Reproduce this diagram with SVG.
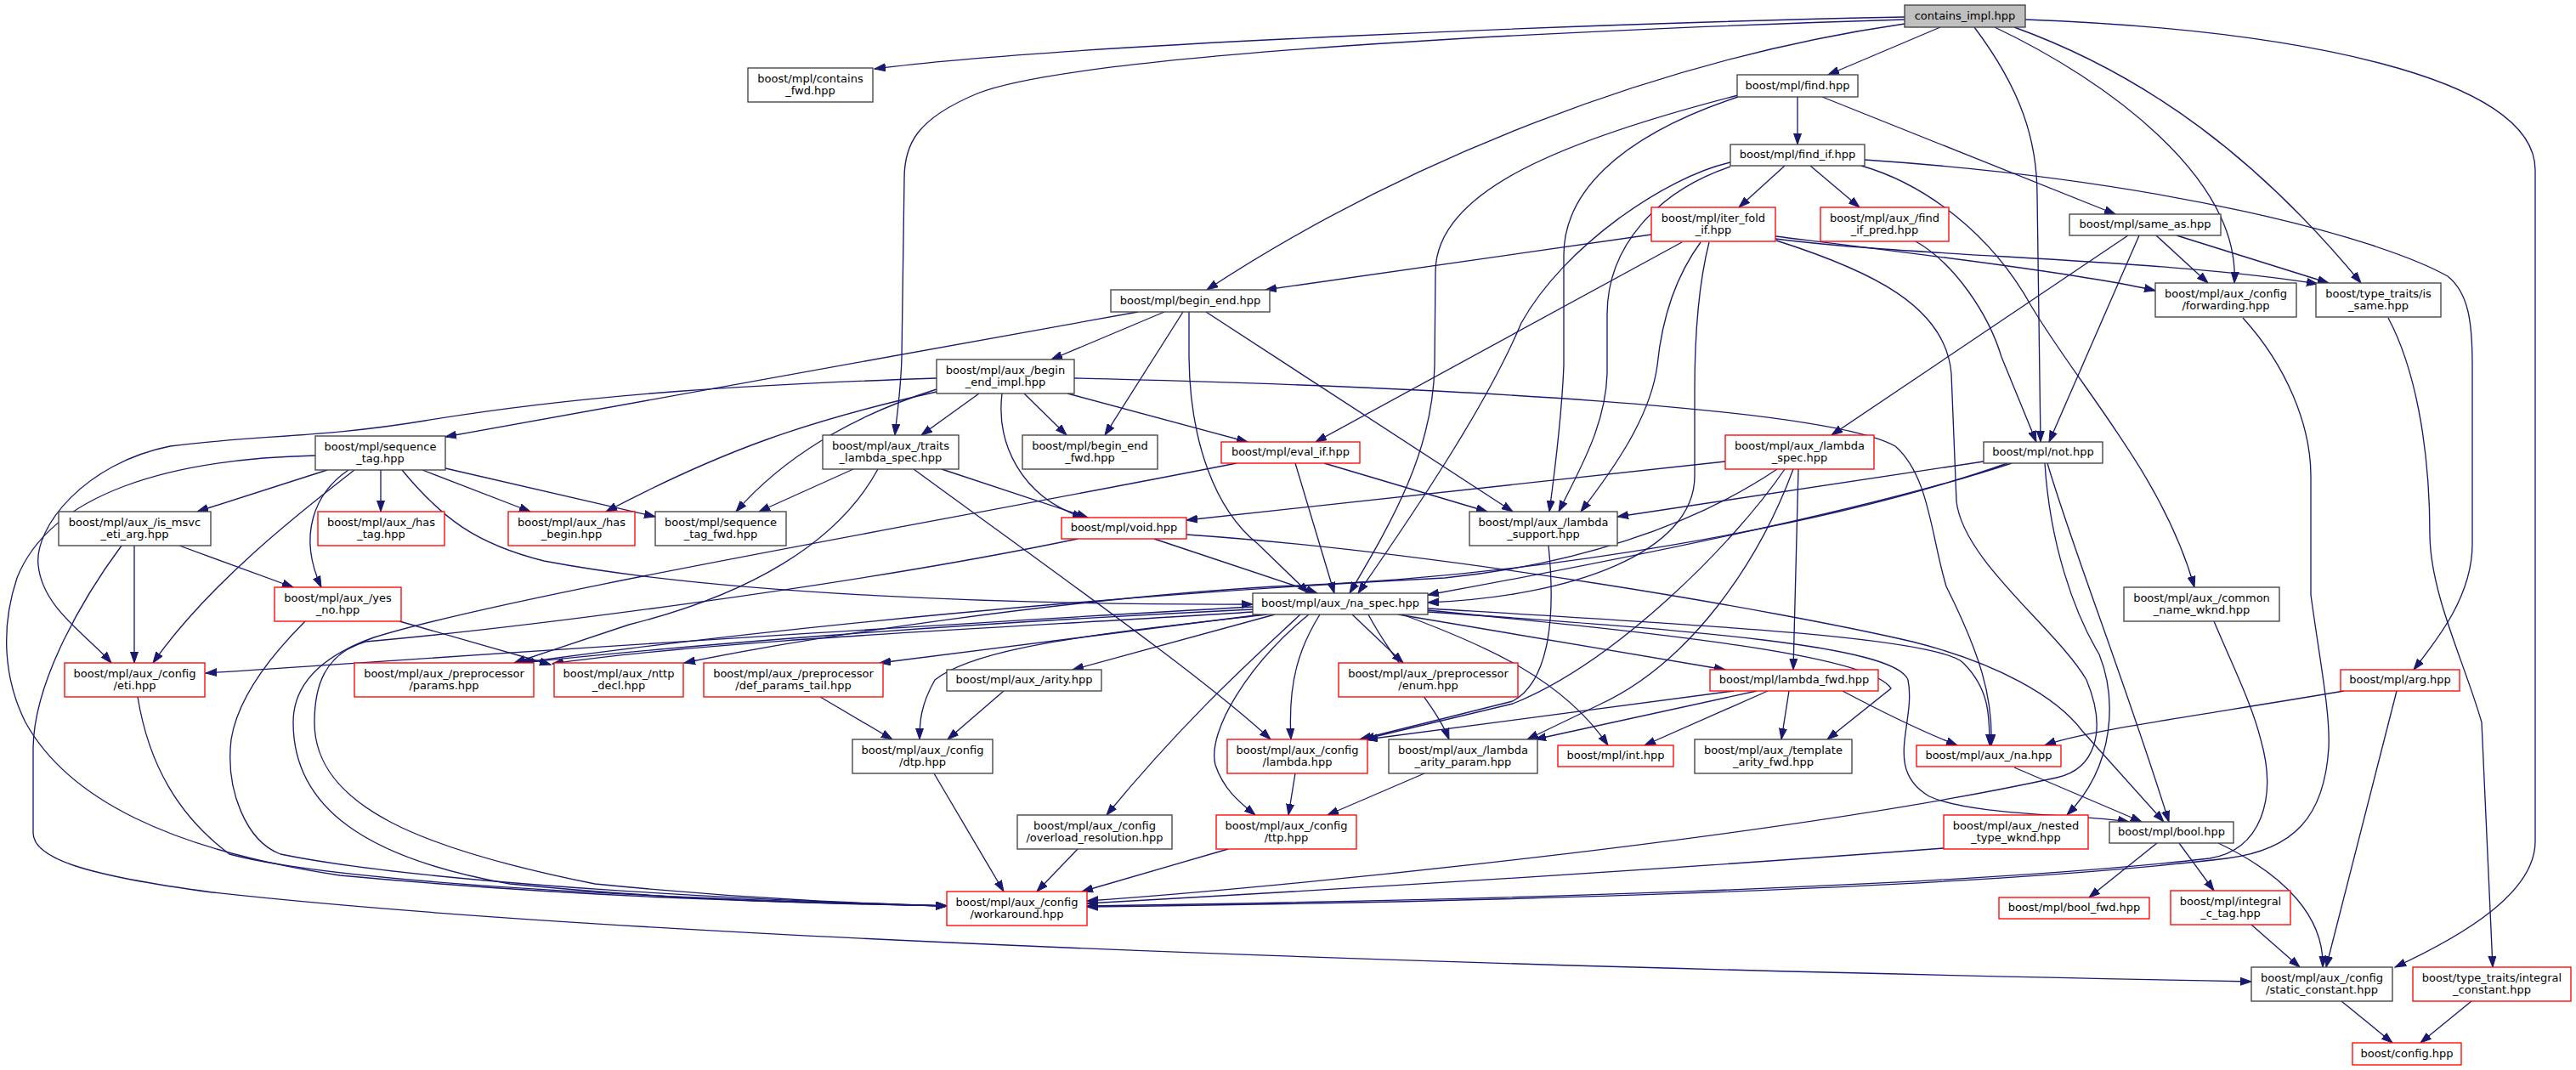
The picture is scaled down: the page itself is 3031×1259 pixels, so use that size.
<svg xmlns="http://www.w3.org/2000/svg" width="3031" height="1259" viewBox="0 0 3031 1259">
<style>
.e path{fill:none;stroke:#191970;stroke-width:1.33;marker-end:url(#ah)}
.n rect{fill:#fff;stroke:#404040;stroke-width:1.33}
.n.r rect{stroke:#ff0000}
.n.g rect{fill:#bfbfbf}
.n text{font-family:"DejaVu Sans","Liberation Sans",sans-serif;font-size:13px;text-anchor:middle;fill:#000}
</style>
<defs>
<marker id="ah" markerUnits="userSpaceOnUse" markerWidth="14" markerHeight="10" refX="13" refY="5" orient="auto"><path d="M0,0.5 L13,5 L0,9.5 z" fill="#191970" stroke="#191970"/></marker>
</defs>
<rect width="3031" height="1259" fill="#fff"/>
<g id="edges" class="e">
<path d="M2241,20 C1900,27 1250,52 1029,81"/>
<path d="M2241,23 C1700,40 1250,70 1150,110 C1078,140 1064,170 1064,210 L1061,420 C1060,460 1055,490 1053,512"/>
<path d="M2241,28 C1950,70 1650,190 1420,341"/>
<path d="M2283,32 L2151,88"/>
<path d="M2323,32 C2378,105 2397,165 2397,230 L2401,520"/>
<path d="M2347,32 C2480,95 2636,210 2629,333"/>
<path d="M2370,32 C2530,90 2660,190 2778,333"/>
<path d="M2383,23 C2700,35 2983,90 2983,200 L2983,990 C2983,1050 2900,1100 2818,1138"/>
<path d="M2115,114 L2115,170"/>
<path d="M2144,114 L2489,252"/>
<path d="M2045,112 C1820,170 1689,230 1689,320 L1688,430 C1686,530 1640,610 1588,698"/>
<path d="M2045,114 C1900,162 1840,230 1840,300 L1840,430 C1838,480 1830,550 1823,602"/>
<path d="M2100,195 L2046,244"/>
<path d="M2130,195 L2188,244"/>
<path d="M2036,191 C1960,208 1840,290 1790,380 C1752,470 1680,580 1598,698"/>
<path d="M2036,196 C1950,225 1891,290 1891,370 L1891,440 C1889,500 1860,550 1834,602"/>
<path d="M2190,195 C2260,215 2340,270 2390,360 C2450,460 2545,560 2582,691"/>
<path d="M2194,188 C2550,212 2800,280 2880,325 C2905,345 2909,380 2909,430 L2909,640 C2909,700 2870,750 2840,788"/>
<path d="M1943,276 L1489,341"/>
<path d="M1979,285 L1548,520"/>
<path d="M2089,278 C2250,298 2450,322 2536,342"/>
<path d="M2089,281 C2250,302 2550,305 2727,334"/>
<path d="M2001,285 C1968,330 1955,380 1950,430 C1942,490 1900,550 1860,602"/>
<path d="M2011,285 C1997,340 1994,400 1994,460 L1994,560 C1994,650 1850,702 1680,709"/>
<path d="M2090,283 C2200,318 2290,360 2296,440 L2302,590 C2310,660 2420,740 2455,800 C2480,860 2465,905 2420,915 C2100,985 1500,1045 1279,1060"/>
<path d="M2254,284 C2300,310 2340,370 2355,420 L2396,520"/>
<path d="M2517,277 L2411,520"/>
<path d="M2504,277 L2155,512"/>
<path d="M2537,277 L2598,333"/>
<path d="M2561,277 L2740,333"/>
<path d="M1339,367 L524,514"/>
<path d="M1370,367 L1237,423"/>
<path d="M1392,367 L1300,512"/>
<path d="M1399,367 L1399,420 C1400,520 1430,600 1480,640 L1540,698"/>
<path d="M1419,367 L1780,602"/>
<path d="M1152,463 L1084,512"/>
<path d="M1205,463 L1255,512"/>
<path d="M1256,463 L1468,520"/>
<path d="M1102,458 C1000,490 920,540 866,602"/>
<path d="M1179,463 C1172,520 1200,585 1275,609"/>
<path d="M1102,461 C950,495 850,530 713,602"/>
<path d="M1264,445 C1700,455 2150,480 2230,525 C2270,560 2272,630 2290,690 C2330,770 2345,820 2343,877"/>
<path d="M1102,445 C900,452 700,462 500,495 C380,515 300,512 200,525 C100,545 40,620 45,665 C50,715 100,745 131,780"/>
<path d="M385,553 L232,602"/>
<path d="M448,553 L448,602"/>
<path d="M497,553 L624,602"/>
<path d="M524,551 L771,608"/>
<path d="M410,553 C370,580 350,630 378,691"/>
<path d="M417,553 C370,590 250,680 180,780"/>
<path d="M473,553 C520,610 560,640 640,660 C850,700 1200,712 1474,711"/>
<path d="M371,536 C200,540 60,580 20,680 C0,740 5,800 30,850 C80,940 200,1000 400,1030 C700,1058 950,1062 1114,1066"/>
<path d="M1004,552 L893,602"/>
<path d="M1108,552 L1280,609"/>
<path d="M1033,552 C985,640 880,700 740,735 L605,780"/>
<path d="M1075,552 C1250,680 1420,800 1495,870"/>
<path d="M1558,545 L1750,602"/>
<path d="M1524,545 L1570,698"/>
<path d="M1455,545 C1100,615 600,700 440,750 C370,775 345,810 345,850 C345,950 430,1010 600,1040 C800,1060 1000,1064 1114,1066"/>
<path d="M2030,543 L1396,612"/>
<path d="M2116,552 L2110,788"/>
<path d="M2091,552 C1990,620 1850,665 1700,680 C1300,700 900,740 612,780"/>
<path d="M2100,552 C2040,640 1900,780 1780,828 L1604,870"/>
<path d="M2110,552 C2070,660 1990,780 1880,830 L1797,870"/>
<path d="M2334,543 L1903,608"/>
<path d="M2367,545 C2200,600 1900,660 1680,700"/>
<path d="M2362,545 C2150,620 1800,680 1500,690 C1250,705 950,750 805,780"/>
<path d="M2406,545 C2412,640 2440,720 2470,770 C2490,820 2490,900 2432,959"/>
<path d="M2409,545 C2440,650 2500,800 2552,967"/>
<path d="M158,642 L158,780"/>
<path d="M211,642 L345,691"/>
<path d="M143,642 C100,700 40,800 39,880 L39,980 C39,1010 100,1030 250,1050 C700,1100 1600,1135 2649,1155"/>
<path d="M1358,634 L1550,698"/>
<path d="M1396,629 C1700,650 2100,720 2250,755 C2350,780 2420,820 2450,860 L2546,967"/>
<path d="M1268,634 C1000,690 600,740 430,755 C380,770 370,810 370,850 C370,950 500,1000 700,1040 C900,1060 1050,1064 1114,1066"/>
<path d="M1822,642 C1830,720 1825,800 1780,825 L1600,870"/>
<path d="M470,731 L648,782"/>
<path d="M359,731 C320,770 280,820 272,870 C265,930 290,990 330,1005 C500,1040 900,1060 1114,1066"/>
<path d="M1474,714 C1000,740 500,775 242,792"/>
<path d="M1474,717 C1100,735 800,760 615,780"/>
<path d="M1474,720 C1200,738 850,752 650,781"/>
<path d="M1485,723 L1035,780"/>
<path d="M1500,723 L1262,788"/>
<path d="M1491,723 C1300,745 1150,760 1100,800 C1083,830 1082,850 1082,870"/>
<path d="M1530,723 C1480,770 1400,840 1302,959"/>
<path d="M1540,723 C1470,780 1420,860 1430,900 C1440,930 1460,945 1477,959"/>
<path d="M1553,723 C1530,760 1515,800 1519,870"/>
<path d="M1591,723 L1651,780"/>
<path d="M1610,723 C1640,780 1690,830 1705,870"/>
<path d="M1650,723 C1750,760 1840,800 1892,877"/>
<path d="M1645,723 L2030,788"/>
<path d="M1680,718 C1950,745 2200,770 2225,810 L2150,870"/>
<path d="M1680,716 C2000,735 2280,750 2310,780 C2340,810 2341,840 2341,877"/>
<path d="M1680,720 C2000,742 2230,760 2245,800 C2255,850 2215,905 2270,937 C2320,960 2450,958 2505,967"/>
<path d="M1181,813 L1115,870"/>
<path d="M2040,813 L1608,870"/>
<path d="M2067,813 L1806,870"/>
<path d="M2080,813 L1935,877"/>
<path d="M2105,813 L2096,870"/>
<path d="M2168,813 C2200,830 2260,860 2303,877"/>
<path d="M2758,813 C2600,840 2450,860 2406,877"/>
<path d="M2820,813 L2737,1138"/>
<path d="M965,820 L1050,870"/>
<path d="M1099,910 L1181,1049"/>
<path d="M1524,910 L1516,959"/>
<path d="M1676,910 L1562,959"/>
<path d="M1268,999 L1220,1049"/>
<path d="M1445,999 L1273,1049"/>
<path d="M162,820 C175,900 210,960 270,1005 C400,1040 800,1058 1114,1066"/>
<path d="M2370,903 L2520,967"/>
<path d="M2287,998 C2000,1020 1600,1045 1279,1063"/>
<path d="M2605,731 C2630,790 2650,830 2660,870 C2680,940 2660,1000 2600,1010 C2300,1045 1700,1060 1279,1066"/>
<path d="M2639,374 C2690,430 2719,500 2719,560 L2719,700 C2730,780 2742,840 2740,880 C2735,960 2700,1000 2620,1010 C2300,1048 1700,1062 1279,1067"/>
<path d="M2810,374 C2840,430 2859,520 2859,630 C2860,700 2900,780 2920,850 L2933,1138"/>
<path d="M2538,992 L2458,1056"/>
<path d="M2564,992 L2605,1048"/>
<path d="M2610,992 C2690,1030 2735,1080 2733,1138"/>
<path d="M2649,1088 L2706,1138"/>
<path d="M2755,1178 L2815,1227"/>
<path d="M2908,1178 L2848,1227"/>
</g>
<g id="n_contains_impl" class="n g"><rect x="2241" y="6" width="142" height="26"/><text x="2312" y="23">contains_impl.hpp</text></g>
<g id="n_contains_fwd" class="n"><rect x="880" y="80" width="147" height="40"/><text x="953.5" y="97">boost/mpl/contains</text><text x="953.5" y="111">_fwd.hpp</text></g>
<g id="n_find" class="n"><rect x="2044" y="88" width="142" height="26"/><text x="2115" y="105">boost/mpl/find.hpp</text></g>
<g id="n_find_if" class="n"><rect x="2036" y="170" width="158" height="25"/><text x="2115" y="186">boost/mpl/find_if.hpp</text></g>
<g id="n_iter_fold_if" class="n r"><rect x="1943" y="244" width="146" height="40"/><text x="2016" y="261">boost/mpl/iter_fold</text><text x="2016" y="275">_if.hpp</text></g>
<g id="n_find_if_pred" class="n r"><rect x="2142" y="244" width="151" height="40"/><text x="2217.5" y="261">boost/mpl/aux_/find</text><text x="2217.5" y="275">_if_pred.hpp</text></g>
<g id="n_same_as" class="n"><rect x="2435" y="252" width="178" height="25"/><text x="2524" y="268">boost/mpl/same_as.hpp</text></g>
<g id="n_begin_end" class="n"><rect x="1307" y="341" width="187" height="26"/><text x="1400.5" y="358">boost/mpl/begin_end.hpp</text></g>
<g id="n_forwarding" class="n"><rect x="2536" y="333" width="166" height="40"/><text x="2619" y="350">boost/mpl/aux_/config</text><text x="2619" y="364">/forwarding.hpp</text></g>
<g id="n_is_same" class="n"><rect x="2725" y="333" width="147" height="40"/><text x="2798.5" y="350">boost/type_traits/is</text><text x="2798.5" y="364">_same.hpp</text></g>
<g id="n_begin_end_impl" class="n"><rect x="1102" y="423" width="162" height="40"/><text x="1183" y="440">boost/mpl/aux_/begin</text><text x="1183" y="454">_end_impl.hpp</text></g>
<g id="n_sequence_tag" class="n"><rect x="371" y="513" width="153" height="40"/><text x="447.5" y="530">boost/mpl/sequence</text><text x="447.5" y="544">_tag.hpp</text></g>
<g id="n_traits_lambda_spec" class="n"><rect x="968" y="512" width="160" height="40"/><text x="1048" y="529">boost/mpl/aux_/traits</text><text x="1048" y="543">_lambda_spec.hpp</text></g>
<g id="n_begin_end_fwd" class="n"><rect x="1203" y="512" width="159" height="40"/><text x="1282.5" y="529">boost/mpl/begin_end</text><text x="1282.5" y="543">_fwd.hpp</text></g>
<g id="n_eval_if" class="n r"><rect x="1437" y="520" width="163" height="25"/><text x="1518.5" y="536">boost/mpl/eval_if.hpp</text></g>
<g id="n_lambda_spec" class="n r"><rect x="2030" y="512" width="175" height="40"/><text x="2117.5" y="529">boost/mpl/aux_/lambda</text><text x="2117.5" y="543">_spec.hpp</text></g>
<g id="n_not" class="n"><rect x="2334" y="520" width="140" height="25"/><text x="2404" y="536">boost/mpl/not.hpp</text></g>
<g id="n_is_msvc_eti_arg" class="n"><rect x="69" y="602" width="179" height="40"/><text x="158.5" y="619">boost/mpl/aux_/is_msvc</text><text x="158.5" y="633">_eti_arg.hpp</text></g>
<g id="n_has_tag" class="n r"><rect x="374" y="602" width="149" height="40"/><text x="448.5" y="619">boost/mpl/aux_/has</text><text x="448.5" y="633">_tag.hpp</text></g>
<g id="n_has_begin" class="n r"><rect x="598" y="602" width="149" height="40"/><text x="672.5" y="619">boost/mpl/aux_/has</text><text x="672.5" y="633">_begin.hpp</text></g>
<g id="n_sequence_tag_fwd" class="n"><rect x="771" y="602" width="154" height="40"/><text x="848" y="619">boost/mpl/sequence</text><text x="848" y="633">_tag_fwd.hpp</text></g>
<g id="n_void" class="n r"><rect x="1249" y="609" width="147" height="25"/><text x="1322.5" y="625">boost/mpl/void.hpp</text></g>
<g id="n_lambda_support" class="n"><rect x="1729" y="602" width="174" height="40"/><text x="1816" y="619">boost/mpl/aux_/lambda</text><text x="1816" y="633">_support.hpp</text></g>
<g id="n_yes_no" class="n r"><rect x="323" y="691" width="149" height="40"/><text x="397.5" y="708">boost/mpl/aux_/yes</text><text x="397.5" y="722">_no.hpp</text></g>
<g id="n_na_spec" class="n"><rect x="1474" y="698" width="206" height="25"/><text x="1577" y="714">boost/mpl/aux_/na_spec.hpp</text></g>
<g id="n_common_name_wknd" class="n"><rect x="2499" y="691" width="183" height="40"/><text x="2590.5" y="708">boost/mpl/aux_/common</text><text x="2590.5" y="722">_name_wknd.hpp</text></g>
<g id="n_eti" class="n r"><rect x="76" y="780" width="165" height="40"/><text x="158.5" y="797">boost/mpl/aux_/config</text><text x="158.5" y="811">/eti.hpp</text></g>
<g id="n_params" class="n r"><rect x="417" y="780" width="211" height="40"/><text x="522.5" y="797">boost/mpl/aux_/preprocessor</text><text x="522.5" y="811">/params.hpp</text></g>
<g id="n_nttp_decl" class="n r"><rect x="652" y="780" width="152" height="40"/><text x="728" y="797">boost/mpl/aux_/nttp</text><text x="728" y="811">_decl.hpp</text></g>
<g id="n_def_params_tail" class="n r"><rect x="828" y="780" width="211" height="40"/><text x="933.5" y="797">boost/mpl/aux_/preprocessor</text><text x="933.5" y="811">/def_params_tail.hpp</text></g>
<g id="n_arity" class="n"><rect x="1114" y="788" width="182" height="25"/><text x="1205" y="804">boost/mpl/aux_/arity.hpp</text></g>
<g id="n_enum" class="n r"><rect x="1575" y="780" width="211" height="40"/><text x="1680.5" y="797">boost/mpl/aux_/preprocessor</text><text x="1680.5" y="811">/enum.hpp</text></g>
<g id="n_lambda_fwd" class="n r"><rect x="2012" y="788" width="198" height="25"/><text x="2111" y="804">boost/mpl/lambda_fwd.hpp</text></g>
<g id="n_arg" class="n r"><rect x="2754" y="788" width="140" height="25"/><text x="2824" y="804">boost/mpl/arg.hpp</text></g>
<g id="n_dtp" class="n"><rect x="1003" y="870" width="165" height="40"/><text x="1085.5" y="887">boost/mpl/aux_/config</text><text x="1085.5" y="901">/dtp.hpp</text></g>
<g id="n_config_lambda" class="n r"><rect x="1444" y="870" width="165" height="40"/><text x="1526.5" y="887">boost/mpl/aux_/config</text><text x="1526.5" y="901">/lambda.hpp</text></g>
<g id="n_lambda_arity_param" class="n"><rect x="1634" y="870" width="175" height="40"/><text x="1721.5" y="887">boost/mpl/aux_/lambda</text><text x="1721.5" y="901">_arity_param.hpp</text></g>
<g id="n_int" class="n r"><rect x="1833" y="877" width="136" height="25"/><text x="1901" y="893">boost/mpl/int.hpp</text></g>
<g id="n_template_arity_fwd" class="n"><rect x="1994" y="870" width="185" height="40"/><text x="2086.5" y="887">boost/mpl/aux_/template</text><text x="2086.5" y="901">_arity_fwd.hpp</text></g>
<g id="n_na" class="n r"><rect x="2255" y="877" width="170" height="25"/><text x="2340" y="893">boost/mpl/aux_/na.hpp</text></g>
<g id="n_overload_resolution" class="n"><rect x="1197" y="959" width="182" height="40"/><text x="1288" y="976">boost/mpl/aux_/config</text><text x="1288" y="990">/overload_resolution.hpp</text></g>
<g id="n_ttp" class="n r"><rect x="1431" y="959" width="165" height="40"/><text x="1513.5" y="976">boost/mpl/aux_/config</text><text x="1513.5" y="990">/ttp.hpp</text></g>
<g id="n_nested_type_wknd" class="n r"><rect x="2287" y="959" width="170" height="40"/><text x="2372" y="976">boost/mpl/aux_/nested</text><text x="2372" y="990">_type_wknd.hpp</text></g>
<g id="n_bool" class="n"><rect x="2482" y="967" width="146" height="25"/><text x="2555" y="983">boost/mpl/bool.hpp</text></g>
<g id="n_workaround" class="n r"><rect x="1114" y="1049" width="165" height="40"/><text x="1196.5" y="1066">boost/mpl/aux_/config</text><text x="1196.5" y="1080">/workaround.hpp</text></g>
<g id="n_bool_fwd" class="n r"><rect x="2352" y="1056" width="177" height="25"/><text x="2440.5" y="1072">boost/mpl/bool_fwd.hpp</text></g>
<g id="n_integral_c_tag" class="n r"><rect x="2554" y="1048" width="141" height="40"/><text x="2624.5" y="1065">boost/mpl/integral</text><text x="2624.5" y="1079">_c_tag.hpp</text></g>
<g id="n_static_constant" class="n"><rect x="2649" y="1138" width="166" height="40"/><text x="2732" y="1155">boost/mpl/aux_/config</text><text x="2732" y="1169">/static_constant.hpp</text></g>
<g id="n_integral_constant" class="n r"><rect x="2839" y="1138" width="186" height="40"/><text x="2932" y="1155">boost/type_traits/integral</text><text x="2932" y="1169">_constant.hpp</text></g>
<g id="n_config" class="n r"><rect x="2768" y="1227" width="128" height="26"/><text x="2832" y="1244">boost/config.hpp</text></g>
</svg>
